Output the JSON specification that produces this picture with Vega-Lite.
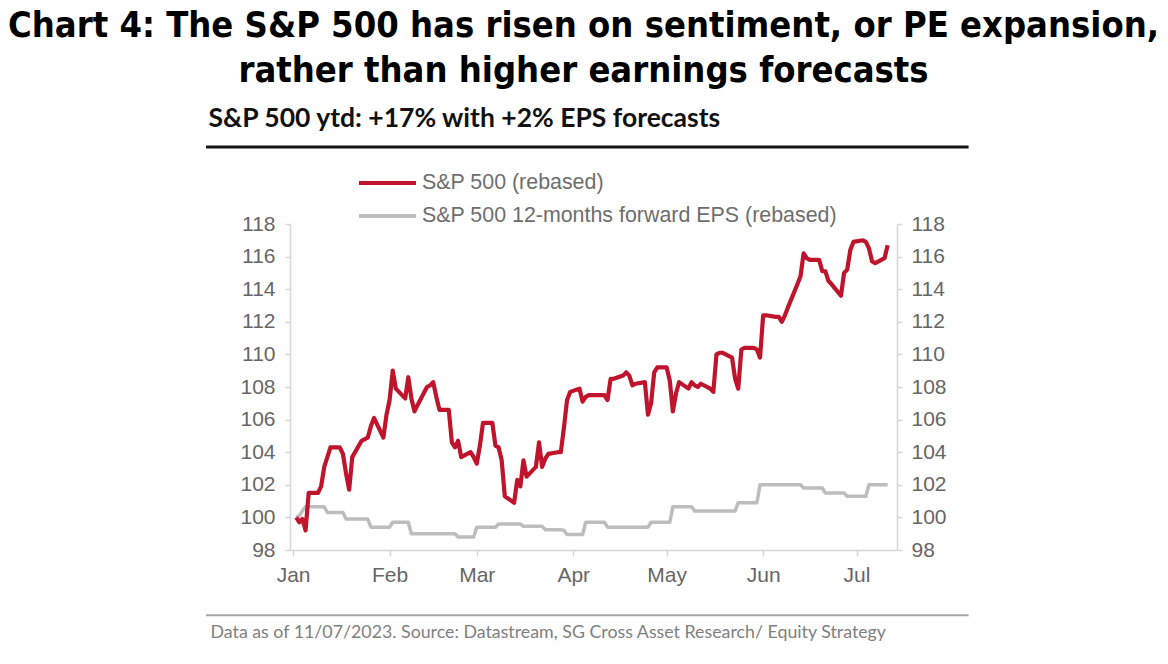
{
  "$schema": "https://vega.github.io/schema/vega-lite/v6.json",
  "width": 607,
  "height": 326,
  "autosize": {"type": "none"},
  "padding": {"left": 290, "top": 224, "right": 271, "bottom": 114},
  "background": "white",
  "title": {
    "text": ["Chart 4: The S&P 500 has risen on sentiment, or PE expansion,", "rather than higher earnings forecasts"],
    "font": "DejaVu Sans Condensed, DejaVu Sans",
    "fontWeight": "bold",
    "fontSize": 36,
    "lineHeight": 45,
    "color": "#000000",
    "anchor": "middle",
    "frame": "group",
    "dx": -10,
    "offset": 15
  },
  "datasets": {
    "series": [
      {"date": "2023/01/02", "sp": 100.0, "eps": 100.0},
      {"date": "2023/01/03", "sp": 99.7, "eps": 100.1},
      {"date": "2023/01/04", "sp": 99.9, "eps": 100.4},
      {"date": "2023/01/05", "sp": 99.2, "eps": 100.65},
      {"date": "2023/01/06", "sp": 101.5, "eps": 100.65},
      {"date": "2023/01/09", "sp": 101.5, "eps": 100.65},
      {"date": "2023/01/10", "sp": 101.9, "eps": 100.65},
      {"date": "2023/01/11", "sp": 103.1, "eps": 100.65},
      {"date": "2023/01/12", "sp": 103.7, "eps": 100.3},
      {"date": "2023/01/13", "sp": 104.3, "eps": 100.3},
      {"date": "2023/01/16", "sp": 104.3, "eps": 100.3},
      {"date": "2023/01/17", "sp": 103.9, "eps": 100.3},
      {"date": "2023/01/18", "sp": 102.7, "eps": 99.9},
      {"date": "2023/01/19", "sp": 101.7, "eps": 99.9},
      {"date": "2023/01/20", "sp": 103.7, "eps": 99.9},
      {"date": "2023/01/23", "sp": 104.7, "eps": 99.9},
      {"date": "2023/01/24", "sp": 104.8, "eps": 99.9},
      {"date": "2023/01/25", "sp": 104.9, "eps": 99.9},
      {"date": "2023/01/26", "sp": 105.6, "eps": 99.4},
      {"date": "2023/01/27", "sp": 106.1, "eps": 99.4},
      {"date": "2023/01/30", "sp": 104.9, "eps": 99.4},
      {"date": "2023/01/31", "sp": 106.3, "eps": 99.4},
      {"date": "2023/02/01", "sp": 107.2, "eps": 99.4},
      {"date": "2023/02/02", "sp": 109.0, "eps": 99.7},
      {"date": "2023/02/03", "sp": 107.9, "eps": 99.7},
      {"date": "2023/02/06", "sp": 107.3, "eps": 99.7},
      {"date": "2023/02/07", "sp": 108.6, "eps": 99.7},
      {"date": "2023/02/08", "sp": 107.3, "eps": 99.0},
      {"date": "2023/02/09", "sp": 106.5, "eps": 99.0},
      {"date": "2023/02/10", "sp": 106.9, "eps": 99.0},
      {"date": "2023/02/13", "sp": 108.0, "eps": 99.0},
      {"date": "2023/02/14", "sp": 108.1, "eps": 99.0},
      {"date": "2023/02/15", "sp": 108.3, "eps": 99.0},
      {"date": "2023/02/16", "sp": 107.4, "eps": 99.0},
      {"date": "2023/02/17", "sp": 106.6, "eps": 99.0},
      {"date": "2023/02/20", "sp": 106.6, "eps": 99.0},
      {"date": "2023/02/21", "sp": 104.6, "eps": 99.0},
      {"date": "2023/02/22", "sp": 104.3, "eps": 99.0},
      {"date": "2023/02/23", "sp": 104.7, "eps": 98.8},
      {"date": "2023/02/24", "sp": 103.7, "eps": 98.8},
      {"date": "2023/02/27", "sp": 104.0, "eps": 98.8},
      {"date": "2023/02/28", "sp": 103.7, "eps": 98.8},
      {"date": "2023/03/01", "sp": 103.3, "eps": 99.4},
      {"date": "2023/03/02", "sp": 104.4, "eps": 99.4},
      {"date": "2023/03/03", "sp": 105.8, "eps": 99.4},
      {"date": "2023/03/06", "sp": 105.8, "eps": 99.4},
      {"date": "2023/03/07", "sp": 104.4, "eps": 99.4},
      {"date": "2023/03/08", "sp": 104.3, "eps": 99.6},
      {"date": "2023/03/09", "sp": 103.5, "eps": 99.6},
      {"date": "2023/03/10", "sp": 101.3, "eps": 99.6},
      {"date": "2023/03/13", "sp": 100.9, "eps": 99.6},
      {"date": "2023/03/14", "sp": 102.3, "eps": 99.6},
      {"date": "2023/03/15", "sp": 101.9, "eps": 99.6},
      {"date": "2023/03/16", "sp": 103.5, "eps": 99.45},
      {"date": "2023/03/17", "sp": 102.5, "eps": 99.45},
      {"date": "2023/03/20", "sp": 103.1, "eps": 99.45},
      {"date": "2023/03/21", "sp": 104.6, "eps": 99.45},
      {"date": "2023/03/22", "sp": 103.1, "eps": 99.45},
      {"date": "2023/03/23", "sp": 103.6, "eps": 99.25},
      {"date": "2023/03/24", "sp": 103.9, "eps": 99.25},
      {"date": "2023/03/27", "sp": 104.0, "eps": 99.25},
      {"date": "2023/03/28", "sp": 104.0, "eps": 99.25},
      {"date": "2023/03/29", "sp": 105.5, "eps": 99.2},
      {"date": "2023/03/30", "sp": 107.2, "eps": 98.95},
      {"date": "2023/03/31", "sp": 107.7, "eps": 98.95},
      {"date": "2023/04/03", "sp": 107.9, "eps": 98.95},
      {"date": "2023/04/04", "sp": 107.1, "eps": 98.95},
      {"date": "2023/04/05", "sp": 107.4, "eps": 99.7},
      {"date": "2023/04/06", "sp": 107.5, "eps": 99.7},
      {"date": "2023/04/07", "sp": 107.5, "eps": 99.7},
      {"date": "2023/04/10", "sp": 107.5, "eps": 99.7},
      {"date": "2023/04/11", "sp": 107.5, "eps": 99.7},
      {"date": "2023/04/12", "sp": 107.2, "eps": 99.4},
      {"date": "2023/04/13", "sp": 108.5, "eps": 99.4},
      {"date": "2023/04/14", "sp": 108.5, "eps": 99.4},
      {"date": "2023/04/17", "sp": 108.7, "eps": 99.4},
      {"date": "2023/04/18", "sp": 108.9, "eps": 99.4},
      {"date": "2023/04/19", "sp": 108.7, "eps": 99.4},
      {"date": "2023/04/20", "sp": 108.1, "eps": 99.4},
      {"date": "2023/04/21", "sp": 108.2, "eps": 99.4},
      {"date": "2023/04/24", "sp": 108.3, "eps": 99.4},
      {"date": "2023/04/25", "sp": 106.3, "eps": 99.4},
      {"date": "2023/04/26", "sp": 107.0, "eps": 99.7},
      {"date": "2023/04/27", "sp": 108.9, "eps": 99.7},
      {"date": "2023/04/28", "sp": 109.2, "eps": 99.7},
      {"date": "2023/05/01", "sp": 109.2, "eps": 99.7},
      {"date": "2023/05/02", "sp": 108.4, "eps": 99.7},
      {"date": "2023/05/03", "sp": 106.5, "eps": 100.65},
      {"date": "2023/05/04", "sp": 107.6, "eps": 100.65},
      {"date": "2023/05/05", "sp": 108.3, "eps": 100.65},
      {"date": "2023/05/08", "sp": 107.9, "eps": 100.65},
      {"date": "2023/05/09", "sp": 108.3, "eps": 100.65},
      {"date": "2023/05/10", "sp": 108.1, "eps": 100.4},
      {"date": "2023/05/11", "sp": 108.0, "eps": 100.4},
      {"date": "2023/05/12", "sp": 108.2, "eps": 100.4},
      {"date": "2023/05/15", "sp": 107.9, "eps": 100.4},
      {"date": "2023/05/16", "sp": 107.7, "eps": 100.4},
      {"date": "2023/05/17", "sp": 110.0, "eps": 100.4},
      {"date": "2023/05/18", "sp": 110.1, "eps": 100.4},
      {"date": "2023/05/19", "sp": 110.1, "eps": 100.4},
      {"date": "2023/05/22", "sp": 109.8, "eps": 100.4},
      {"date": "2023/05/23", "sp": 108.5, "eps": 100.4},
      {"date": "2023/05/24", "sp": 107.9, "eps": 100.9},
      {"date": "2023/05/25", "sp": 110.3, "eps": 100.9},
      {"date": "2023/05/26", "sp": 110.4, "eps": 100.9},
      {"date": "2023/05/29", "sp": 110.4, "eps": 100.9},
      {"date": "2023/05/30", "sp": 110.3, "eps": 100.9},
      {"date": "2023/05/31", "sp": 109.8, "eps": 102.0},
      {"date": "2023/06/01", "sp": 112.4, "eps": 102.0},
      {"date": "2023/06/02", "sp": 112.4, "eps": 102.0},
      {"date": "2023/06/05", "sp": 112.3, "eps": 102.0},
      {"date": "2023/06/06", "sp": 112.3, "eps": 102.0},
      {"date": "2023/06/07", "sp": 112.0, "eps": 102.0},
      {"date": "2023/06/08", "sp": 112.4, "eps": 102.0},
      {"date": "2023/06/09", "sp": 112.9, "eps": 102.0},
      {"date": "2023/06/12", "sp": 114.3, "eps": 102.0},
      {"date": "2023/06/13", "sp": 114.8, "eps": 102.0},
      {"date": "2023/06/14", "sp": 116.2, "eps": 101.8},
      {"date": "2023/06/15", "sp": 115.9, "eps": 101.8},
      {"date": "2023/06/16", "sp": 115.8, "eps": 101.8},
      {"date": "2023/06/19", "sp": 115.8, "eps": 101.8},
      {"date": "2023/06/20", "sp": 115.1, "eps": 101.8},
      {"date": "2023/06/21", "sp": 115.1, "eps": 101.5},
      {"date": "2023/06/22", "sp": 114.5, "eps": 101.5},
      {"date": "2023/06/23", "sp": 114.3, "eps": 101.5},
      {"date": "2023/06/26", "sp": 113.6, "eps": 101.5},
      {"date": "2023/06/27", "sp": 115.0, "eps": 101.5},
      {"date": "2023/06/28", "sp": 115.2, "eps": 101.3},
      {"date": "2023/06/29", "sp": 116.4, "eps": 101.3},
      {"date": "2023/06/30", "sp": 116.9, "eps": 101.3},
      {"date": "2023/07/03", "sp": 117.0, "eps": 101.3},
      {"date": "2023/07/04", "sp": 116.9, "eps": 101.3},
      {"date": "2023/07/05", "sp": 116.5, "eps": 102.0},
      {"date": "2023/07/06", "sp": 115.7, "eps": 102.0},
      {"date": "2023/07/07", "sp": 115.6, "eps": 102.0},
      {"date": "2023/07/10", "sp": 115.9, "eps": 102.0},
      {"date": "2023/07/11", "sp": 116.7, "eps": 102.0}
    ]
  },
  "layer": [
    {
      "data": {"name": "series"},
      "mark": {"type": "line", "strokeWidth": 3.5, "strokeJoin": "round"},
      "encoding": {
        "x": {
          "field": "date", "type": "temporal",
          "scale": {"domain": [{"year": 2022, "month": 12, "date": 31}, {"year": 2023, "month": 7, "date": 14}]},
          "axis": {
            "format": "%b", "tickCount": {"interval": "month", "step": 1}, "labelFlush": false, "grid": false,
            "domainColor": "#d6d6d6", "domainWidth": 1.5, "tickColor": "#d6d6d6", "tickWidth": 1.5, "tickSize": 6,
            "labelPadding": 8, "labelFont": "Liberation Sans", "labelFontSize": 21, "labelColor": "#666666",
            "title": "Data as of 11/07/2023. Source: Datastream, SG Cross Asset Research/ Equity Strategy",
            "titleX": -80, "titleY": 87, "titleAlign": "left", "titleBaseline": "alphabetic", "titleAnchor": "start",
            "titleFont": "Lato", "titleFontSize": 17.8, "titleFontWeight": "normal", "titleColor": "#808080"
          }
        },
        "y": {
          "field": "eps", "type": "quantitative",
          "scale": {"domain": [98, 118], "nice": false, "zero": false},
          "axis": {
            "orient": "right", "values": [98, 100, 102, 104, 106, 108, 110, 112, 114, 116, 118], "grid": false, "title": null,
            "domainColor": "#d6d6d6", "domainWidth": 1.5, "tickColor": "#d6d6d6", "tickWidth": 1.5, "tickSize": 5,
            "labelPadding": 9, "labelFont": "Liberation Sans", "labelFontSize": 21, "labelColor": "#666666"
          }
        },
        "color": {
          "datum": "S&P 500 12-months forward EPS (rebased)",
          "scale": {"domain": ["S&P 500 (rebased)", "S&P 500 12-months forward EPS (rebased)"], "range": ["#c0142c", "#bdbdbd"]},
          "legend": {
            "orient": "none", "legendX": 67, "legendY": -51, "title": null, "direction": "vertical",
            "symbolType": "stroke", "symbolSize": 3249, "symbolStrokeWidth": 4, "clipHeight": 20, "rowPadding": 11,
            "labelFont": "Liberation Sans", "labelFontSize": 21.4, "labelColor": "#6e6e6e", "labelOffset": 4, "labelLimit": 600
          }
        }
      }
    },
    {
      "data": {"name": "series"},
      "mark": {"type": "line", "strokeWidth": 4.2, "strokeJoin": "round"},
      "encoding": {
        "x": {
          "field": "date", "type": "temporal",
          "scale": {"domain": [{"year": 2022, "month": 12, "date": 31}, {"year": 2023, "month": 7, "date": 14}]},
          "axis": {
            "format": "%b", "tickCount": {"interval": "month", "step": 1}, "labelFlush": false, "grid": false,
            "domainColor": "#d6d6d6", "domainWidth": 1.5, "tickColor": "#d6d6d6", "tickWidth": 1.5, "tickSize": 6,
            "labelPadding": 8, "labelFont": "Liberation Sans", "labelFontSize": 21, "labelColor": "#666666",
            "title": "Data as of 11/07/2023. Source: Datastream, SG Cross Asset Research/ Equity Strategy",
            "titleX": -80, "titleY": 87, "titleAlign": "left", "titleBaseline": "alphabetic", "titleAnchor": "start",
            "titleFont": "Lato", "titleFontSize": 17.8, "titleFontWeight": "normal", "titleColor": "#808080"
          }
        },
        "y": {
          "field": "sp", "type": "quantitative",
          "scale": {"domain": [98, 118], "nice": false, "zero": false},
          "axis": {
            "orient": "left", "values": [98, 100, 102, 104, 106, 108, 110, 112, 114, 116, 118], "grid": false,
            "domainColor": "#d6d6d6", "domainWidth": 1.5, "tickColor": "#d6d6d6", "tickWidth": 1.5, "tickSize": 5,
            "labelPadding": 10, "labelFont": "Liberation Sans", "labelFontSize": 21, "labelColor": "#666666",
            "title": "S&P 500 ytd: +17% with +2% EPS forecasts",
            "titleAngle": 0, "titleAlign": "left", "titleBaseline": "alphabetic", "titleX": -82, "titleY": -98,
            "titleFont": "Lato", "titleFontSize": 26.5, "titleFontWeight": "bold", "titleColor": "#111111"
          }
        },
        "color": {
          "datum": "S&P 500 (rebased)",
          "scale": {"domain": ["S&P 500 (rebased)", "S&P 500 12-months forward EPS (rebased)"], "range": ["#c0142c", "#bdbdbd"]},
          "legend": {
            "orient": "none", "legendX": 67, "legendY": -51, "title": null, "direction": "vertical",
            "symbolType": "stroke", "symbolSize": 3249, "symbolStrokeWidth": 4, "clipHeight": 20, "rowPadding": 11,
            "labelFont": "Liberation Sans", "labelFontSize": 21.4, "labelColor": "#6e6e6e", "labelOffset": 4, "labelLimit": 600
          }
        }
      }
    },
    {
      "data": {"values": [{}]},
      "mark": {"type": "rule", "color": "#161616", "strokeWidth": 3},
      "encoding": {
        "x": {
          "datum": {"year": 2022, "month": 12, "date": 4}, "type": "temporal",
          "axis": {
            "format": "%b", "tickCount": {"interval": "month", "step": 1}, "labelFlush": false, "grid": false,
            "domainColor": "#d6d6d6", "domainWidth": 1.5, "tickColor": "#d6d6d6", "tickWidth": 1.5, "tickSize": 6,
            "labelPadding": 8, "labelFont": "Liberation Sans", "labelFontSize": 21, "labelColor": "#666666",
            "title": "Data as of 11/07/2023. Source: Datastream, SG Cross Asset Research/ Equity Strategy",
            "titleX": -80, "titleY": 87, "titleAlign": "left", "titleBaseline": "alphabetic", "titleAnchor": "start",
            "titleFont": "Lato", "titleFontSize": 17.8, "titleFontWeight": "normal", "titleColor": "#808080"
          }
        },
        "x2": {"datum": {"year": 2023, "month": 8, "date": 6}},
        "y": {"datum": 122.72, "type": "quantitative", "axis": null}
      }
    },
    {
      "data": {"values": [{}]},
      "mark": {"type": "rule", "color": "#a6a6a6", "strokeWidth": 2},
      "encoding": {
        "x": {
          "datum": {"year": 2022, "month": 12, "date": 4}, "type": "temporal",
          "axis": {
            "format": "%b", "tickCount": {"interval": "month", "step": 1}, "labelFlush": false, "grid": false,
            "domainColor": "#d6d6d6", "domainWidth": 1.5, "tickColor": "#d6d6d6", "tickWidth": 1.5, "tickSize": 6,
            "labelPadding": 8, "labelFont": "Liberation Sans", "labelFontSize": 21, "labelColor": "#666666",
            "title": "Data as of 11/07/2023. Source: Datastream, SG Cross Asset Research/ Equity Strategy",
            "titleX": -80, "titleY": 87, "titleAlign": "left", "titleBaseline": "alphabetic", "titleAnchor": "start",
            "titleFont": "Lato", "titleFontSize": 17.8, "titleFontWeight": "normal", "titleColor": "#808080"
          }
        },
        "x2": {"datum": {"year": 2023, "month": 8, "date": 6}},
        "y": {"datum": 94.0, "type": "quantitative", "axis": null}
      }
    }
  ],
  "resolve": {"axis": {"y": "independent"}},
  "config": {"view": {"stroke": null}}
}
